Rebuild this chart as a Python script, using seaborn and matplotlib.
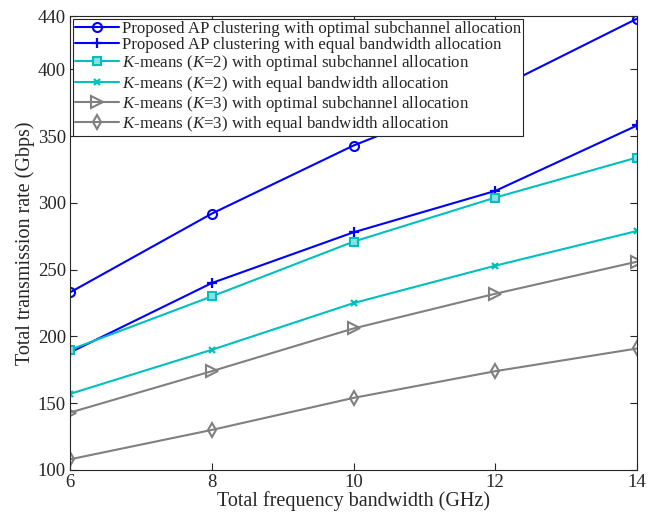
import matplotlib
matplotlib.use("Agg")
import matplotlib.pyplot as plt
import seaborn as sns
import pandas as pd

bandwidth = [6, 8, 10, 12, 14]
ap_opt = [233, 292, 343, 385, 438]
ap_eq = [188, 240, 278, 309, 358]
k2_opt = [190, 230, 271, 304, 334]
k2_eq = [157, 190, 225, 253, 279]
k3_opt = [143, 174, 206, 232, 256]
k3_eq = [108, 130, 154, 174, 191]

labels = [
    "Proposed AP clustering with optimal subchannel allocation",
    "Proposed AP clustering with equal bandwidth allocation",
    "$K$-means ($K$=2) with optimal subchannel allocation",
    "$K$-means ($K$=2) with equal bandwidth allocation",
    "$K$-means ($K$=3) with optimal subchannel allocation",
    "$K$-means ($K$=3) with equal bandwidth allocation",
]
series = [ap_opt, ap_eq, k2_opt, k2_eq, k3_opt, k3_eq]
x_ticks = [6, 8, 10, 12, 14]
y_ticks = [100, 150, 200, 250, 300, 350, 400, 440]

sns.set_style("ticks")
plt.rcParams['font.family'] = ['Liberation Serif', 'DejaVu Serif']
plt.rcParams['mathtext.fontset'] = 'custom'
plt.rcParams['mathtext.rm'] = 'Liberation Serif'
plt.rcParams['mathtext.it'] = 'Liberation Serif:italic'

blue = (0, 0, 1)
cyan = (0.0, 0.75, 0.75)
gray = (0.5, 0.5, 0.5)
styles = [
    dict(color=blue, marker='o', mfc='none', mec=blue, ms=6.5, mew=1.5),
    dict(color=blue, marker='+', mfc=blue, mec=blue, ms=7, mew=1.6),
    dict(color=cyan, marker='s', mfc=(0.55, 0.88, 0.88), mec=cyan, ms=5.5, mew=1.5),
    dict(color=cyan, marker='x', mfc=cyan, mec=cyan, ms=4.5, mew=1.6),
    dict(color=gray, marker='>', mfc='none', mec=gray, ms=8.5, mew=1.5),
    dict(color=gray, marker='d', mfc='none', mec=gray, ms=7.5, mew=1.5),
]

fig = plt.figure(figsize=(6.57, 5.19), dpi=100)
ax = fig.add_axes([70/657, 1 - 470/519, (637-70)/657, (470-16)/519])

for lab, vals, st in zip(labels, series, styles):
    df = pd.DataFrame({"x": bandwidth, "y": vals})
    sns.lineplot(data=df, x="x", y="y", ax=ax, label=lab, linewidth=1.5,
                 color=st['color'], marker=st['marker'], markerfacecolor=st['mfc'],
                 markeredgecolor=st['mec'], markersize=st['ms'], markeredgewidth=st['mew'])

ax.set_xlim(6, 14)
ax.set_ylim(100, 440)
ax.set_xticks(x_ticks)
ax.set_yticks(y_ticks)
ax.tick_params(direction='in', top=True, right=True, length=5, width=0.8, labelsize=13.5,
               colors='#262626', labelcolor='#262626', pad=3)
for sp in ax.spines.values():
    sp.set_visible(True)
    sp.set_linewidth(0.8)
    sp.set_color('#262626')
ax.set_xlabel("Total frequency bandwidth (GHz)", fontsize=14.5, color='#262626', labelpad=0)
ax.set_ylabel("Total transmission rate (Gbps)", fontsize=14.5, color='#262626', labelpad=2)

leg = ax.legend(loc='upper left', fontsize=12.2, frameon=True, fancybox=False,
                edgecolor='#262626', framealpha=1, handlelength=2.6, handletextpad=0.2,
                borderpad=0.12, labelspacing=0.02, borderaxespad=0.15)
leg.get_frame().set_linewidth(0.8)

fig.savefig("out.png", dpi=100)
